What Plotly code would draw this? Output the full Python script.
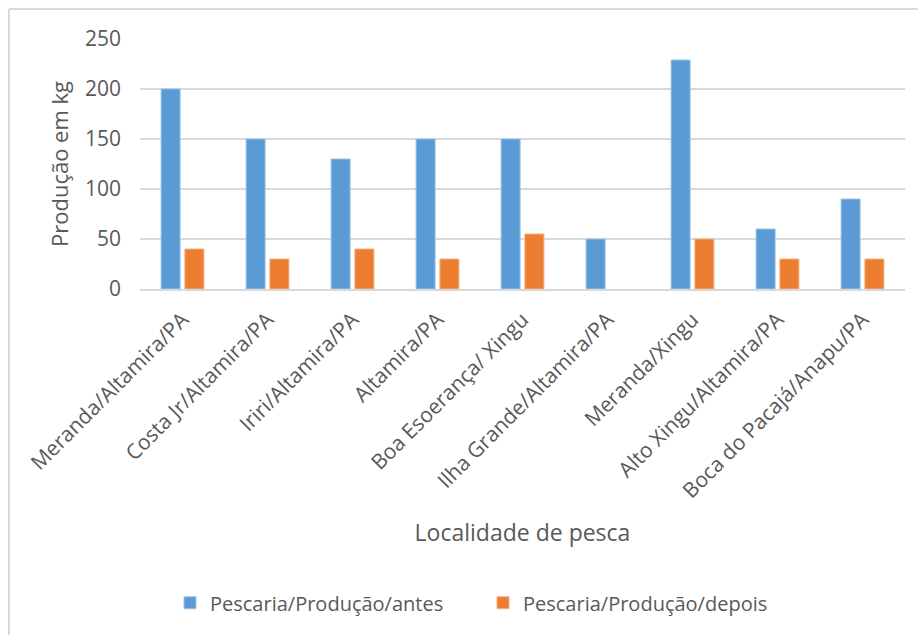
import plotly.graph_objects as go

categories = ["Meranda/Altamira/PA", "Costa Jr/Altamira/PA", "Iriri/Altamira/PA",
              "Altamira/PA", "Boa Esoerança/ Xingu", "Ilha Grande/Altamira/PA",
              "Meranda/Xingu", "Alto Xingu/Altamira/PA", "Boca do Pacajá/Anapu/PA"]
antes = [200, 150, 130, 150, 150, 50, 229, 60, 90]
depois = [40, 30, 40, 30, 55, 0, 50, 30, 30]
y_ticks = [0, 50, 100, 150, 200, 250]

FONT = "Open Sans"
GRAY = "#595959"

fig = go.Figure()
fig.add_trace(go.Bar(x=categories, y=antes, name="Pescaria/Produção/antes",
                     marker=dict(color="#5B9BD5",
                                 line=dict(color="#9DC3E6", width=[1 if v else 0 for v in antes]))))
fig.add_trace(go.Bar(x=categories, y=depois, name="Pescaria/Produção/depois",
                     marker=dict(color="#ED7D31",
                                 line=dict(color="#F4B183", width=[1 if v else 0 for v in depois]))))

L, R, T, B = 140, 13, 39, 346
W, H = 918, 635
pw = W - L - R
ph = H - T - B

fig.update_layout(
    width=W, height=H,
    margin=dict(l=L, r=R, t=T, b=B),
    paper_bgcolor="white", plot_bgcolor="white",
    barmode="group", bargap=0.44, bargroupgap=0.2,
    font=dict(family=FONT, color=GRAY),
    showlegend=True,
    legend=dict(orientation="h", x=(170 - L) / pw, xanchor="left", y=-1.255, yanchor="middle",
                font=dict(size=20, color=GRAY), itemwidth=30, traceorder="normal",
                entrywidth=268),
    xaxis=dict(tickangle=-45, tickfont=dict(size=21, color=GRAY), showgrid=False,
               showline=True, linecolor="#D9D9D9", linewidth=2, ticks="",
               ticklabelstandoff=8,
               title=dict(text="Localidade de pesca", font=dict(size=23, color=GRAY), standoff=22)),
    yaxis=dict(range=[0, 250], tickvals=y_ticks, tickfont=dict(size=21, color=GRAY),
               showgrid=True, gridcolor="#D9D9D9", gridwidth=2, zeroline=False,
               ticks="", ticklabelstandoff=18,
               title=dict(text="Produção em kg", font=dict(size=22, color=GRAY), standoff=10)),
    shapes=[
        dict(type="line", xref="paper", yref="paper",
             x0=(9 - L) / pw, x1=1.02, y0=(H - B - 9) / ph, y1=(H - B - 9) / ph,
             line=dict(color="#D9D9D9", width=2)),
        dict(type="line", xref="paper", yref="paper",
             x0=(9 - L) / pw, x1=(9 - L) / pw, y0=(H - B - 9) / ph, y1=-1.5,
             line=dict(color="#D9D9D9", width=2)),
    ],
)

fig.write_html("out.html")
